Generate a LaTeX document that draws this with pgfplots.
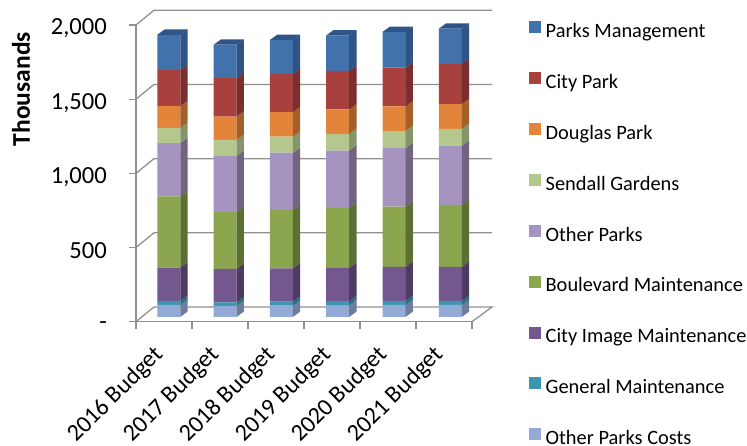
\documentclass[border=0pt]{standalone}
\usepackage{fontspec}
\setmainfont{Carlito}
\usepackage{pgfplots}
\usepackage{pgfplotstable}
\pgfplotsset{compat=1.18}
\definecolor{cBlue}{HTML}{4272AC}\definecolor{sBlue}{HTML}{2E5384}\definecolor{tBlue}{HTML}{2F5488}
\definecolor{cRed}{HTML}{A8403E}\definecolor{sRed}{HTML}{7A2F2E}
\definecolor{cOrange}{HTML}{E2843A}\definecolor{sOrange}{HTML}{A5602A}
\definecolor{cLg}{HTML}{B4C88E}\definecolor{sLg}{HTML}{85956A}
\definecolor{cLilac}{HTML}{A594BF}\definecolor{sLilac}{HTML}{716481}
\definecolor{cGreen}{HTML}{8BA64F}\definecolor{sGreen}{HTML}{5D7034}
\definecolor{cPurple}{HTML}{75578F}\definecolor{sPurple}{HTML}{4F3B62}
\definecolor{cTeal}{HTML}{3D96AE}\definecolor{sTeal}{HTML}{2B6E80}
\definecolor{cLb}{HTML}{93A9D6}\definecolor{sLb}{HTML}{6C7D9D}
\definecolor{gridc}{HTML}{909090}
\pgfplotstableread{
i  Lb Teal Purple Green Lilac Lg  Orange Red Blue
0  81 27   225    479   360   103 146    243 238
1  74 25   225    384   378   108 157    259 225
2  76 27   225    393   386   108 165    258 229
3  79 27   225    403   388   111 166    259 240
4  81 27   229    407   394   115 166    261 241
5  81 27   229    418   400   113 167    270 238
}\data
\pgfplotsset{common/.style={scale only axis,width=336pt,height=296.7pt,clip=false}}
\begin{document}
\begin{tikzpicture}
\useasboundingbox (-136pt,-124.3pt) rectangle (611pt,321.7pt);
% walls and axes
\begin{axis}[common,
  xmin=-0.5,xmax=5.5,ymin=0,ymax=2000,
  axis x line=bottom,axis y line=left,
  axis line style={gridc,line width=1.5pt,-},
  xtick={0,1,2,3,4,5},
  xticklabels={2016 Budget,2017 Budget,2018 Budget,2019 Budget,2020 Budget,2021 Budget},
  minor xtick={-0.5,0.5,1.5,2.5,3.5,4.5,5.5},
  ytick={0,500,1000,1500,2000},
  yticklabels={-,500,{1,000},{1,500},{2,000}},
  major x tick style={draw=none},
  minor x tick style={gridc,line width=1.2pt},
  y tick style={gridc,line width=1.2pt},
  tick align=outside,
  major tick length=7pt,minor tick length=7pt,
  tick label style={font=\fontsize{24}{24}\selectfont},
  xticklabel style={rotate=45,anchor=north east,inner sep=0pt,xshift=-19pt,yshift=-2.2pt},
  yticklabel style={inner xsep=0pt,xshift=-22pt,yshift=-3.5pt,font=\fontsize{24.6}{25}\selectfont},
  every axis y label/.style={at={(axis description cs:-0.342,0.784)},rotate=90,anchor=center,font=\fontsize{25.5}{25}\selectfont\bfseries},
  ylabel={Thousands},
]
\addplot[gridc,line width=1.3pt] coordinates {(-0.5,0) (-0.18,99) (5.857,99) (5.5,0)};
\addplot[gridc,line width=1.3pt] coordinates {(-0.5,500) (-0.18,599) (5.857,599)};
\addplot[gridc,line width=1.3pt] coordinates {(-0.5,1000) (-0.18,1099) (5.857,1099)};
\addplot[gridc,line width=1.3pt] coordinates {(-0.5,1500) (-0.18,1599) (5.857,1599)};
\addplot[gridc,line width=1.3pt] coordinates {(-0.5,2000) (-0.18,2099) (5.857,2099)};
\end{axis}
% front faces of the bars
\begin{axis}[common,hide axis,
  xmin=-0.5826,xmax=5.3854,ymin=-32,ymax=1968,
  ybar stacked,bar width=23pt,
  legend style={at={(axis description cs:1.168,1.0125)},anchor=north west,draw=none,fill=none,
    inner sep=0pt,font=\fontsize{20.4}{20}\selectfont,row sep=30.1pt,
    nodes={inner sep=0pt,text height=14pt,text depth=4.5pt},
    /tikz/every odd column/.style={column sep=5pt}},
  legend cell align=left,reverse legend,
  legend image code/.code={\fill[#1] (0pt,-0.5pt) rectangle (12pt,11.5pt);},
]
\addplot[fill=cLb,draw=none] table[x=i,y=Lb]{\data};
\addplot[fill=cTeal,draw=none] table[x=i,y=Teal]{\data};
\addplot[fill=cPurple,draw=none] table[x=i,y=Purple]{\data};
\addplot[fill=cGreen,draw=none] table[x=i,y=Green]{\data};
\addplot[fill=cLilac,draw=none] table[x=i,y=Lilac]{\data};
\addplot[fill=cLg,draw=none] table[x=i,y=Lg]{\data};
\addplot[fill=cOrange,draw=none] table[x=i,y=Orange]{\data};
\addplot[fill=cRed,draw=none] table[x=i,y=Red]{\data};
\addplot[fill=cBlue,draw=none] table[x=i,y=Blue]{\data};
\legend{Other Parks Costs,General Maintenance,City Image Maintenance,Boulevard Maintenance,Other Parks,Sendall Gardens,Douglas Park,City Park,Parks Management}
\end{axis}
% side and top faces of the bars
\begin{axis}[common,hide axis,xmin=-0.5826,xmax=5.3854,ymin=-32,ymax=1968]
\foreach \r in {0,...,5}{
  \xdef\cum{0}
  \foreach \c/\s in {Lb/sLb,Teal/sTeal,Purple/sPurple,Green/sGreen,Lilac/sLilac,Lg/sLg,Orange/sOrange,Red/sRed,Blue/sBlue}{
    \pgfplotstablegetelem{\r}{\c}\of\data
    \pgfmathsetmacro\hi{\cum+\pgfplotsretval}
    \pgfmathsetmacro\xa{\r+0.204}
    \pgfmathsetmacro\xb{\r+0.334}
    \pgfmathsetmacro\ya{\cum+36}
    \pgfmathsetmacro\yb{\hi+36}
    \edef\temp{\noexpand\addplot[fill=\s,draw=none] coordinates {(\xa,\cum) (\xb,\ya) (\xb,\yb) (\xa,\hi)} --cycle;}
    \temp
    \xdef\cum{\hi}
  }
  \pgfmathsetmacro\xl{\r-0.204}
  \pgfmathsetmacro\xa{\r+0.204}
  \pgfmathsetmacro\xb{\r+0.334}
  \pgfmathsetmacro\xc{\r-0.074}
  \pgfmathsetmacro\yb{\cum+36}
  \edef\temp{\noexpand\addplot[fill=tBlue,draw=none] coordinates {(\xl,\cum) (\xa,\cum) (\xb,\yb) (\xc,\yb)} --cycle;}
  \temp
}
\end{axis}
\end{tikzpicture}
\end{document}
